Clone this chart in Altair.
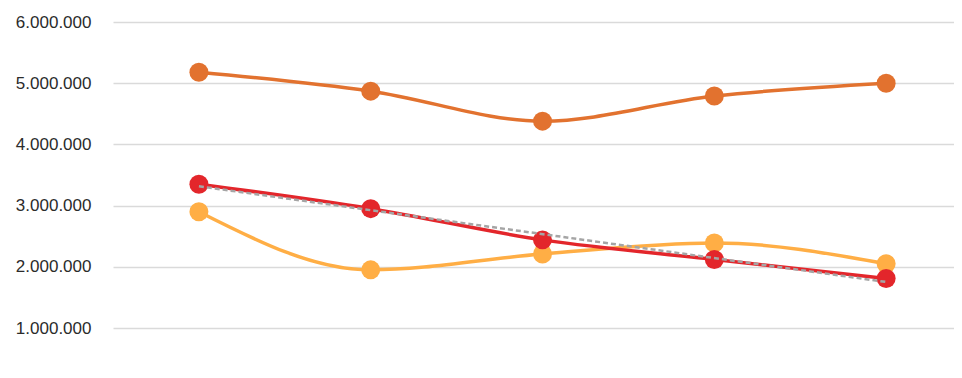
import altair as alt
import pandas as pd

positions = [0, 1, 2, 3, 4]
series_names = ["Serie 1", "Serie 2", "Serie 3"]
values_dark_orange = [5180000, 4870000, 4380000, 4790000, 5000000]
values_red = [3350000, 2950000, 2440000, 2120000, 1810000]
values_light_orange = [2900000, 1950000, 2210000, 2390000, 2050000]
y_ticks = [1000000, 2000000, 3000000, 4000000, 5000000, 6000000]
colors = ["#E2722F", "#E3262B", "#FFAE45"]

rows = []
for name, vals in zip(series_names, [values_dark_orange, values_red, values_light_orange]):
    for p, v in zip(positions, vals):
        rows.append({"idx": p, "value": v, "series": name})
df = pd.DataFrame(rows)

x = alt.X("idx:Q", scale=alt.Scale(domain=[-0.5, 4.395], nice=False, zero=False), axis=None)
y = alt.Y("value:Q", scale=alt.Scale(domain=[1000000, 6000000], nice=False, zero=False),
          axis=alt.Axis(values=y_ticks, title=None, domain=False, ticks=False,
                        grid=True, gridColor="#DADADA", gridWidth=1.5,
                        labelExpr="replace(replace(format(datum.value, ',d'), ',', '.'), ',', '.')",
                        labelFont="Liberation Sans", labelFontSize=17, labelColor="#2B2B2B",
                        labelPadding=22))
color = alt.Color("series:N", scale=alt.Scale(domain=series_names, range=colors), legend=None)

base = alt.Chart(df)
order_layers = []
for name in [series_names[0], series_names[2], series_names[1]]:
    sub = base.transform_filter(alt.datum.series == name)
    order_layers.append(sub.mark_line(strokeWidth=3.5, interpolate="monotone").encode(x=x, y=y, color=color))
    order_layers.append(sub.mark_circle(size=360, opacity=1).encode(x=x, y=y, color=color))

trend = base.transform_filter(alt.datum.series == series_names[1]).transform_regression(
    "idx", "value").mark_line(strokeDash=[5, 3], color="#A5A5A5", strokeWidth=2.5).encode(x=x, y=y)

chart = alt.layer(*order_layers, trend).properties(
    width=841, height=306,
    autosize=alt.AutoSizeParams(type="none"),
    padding={"left": 105, "top": 14, "right": 0, "bottom": 30},
).configure_view(stroke=None)

chart.save("out.html", embed_options={"renderer": "svg", "actions": False})
